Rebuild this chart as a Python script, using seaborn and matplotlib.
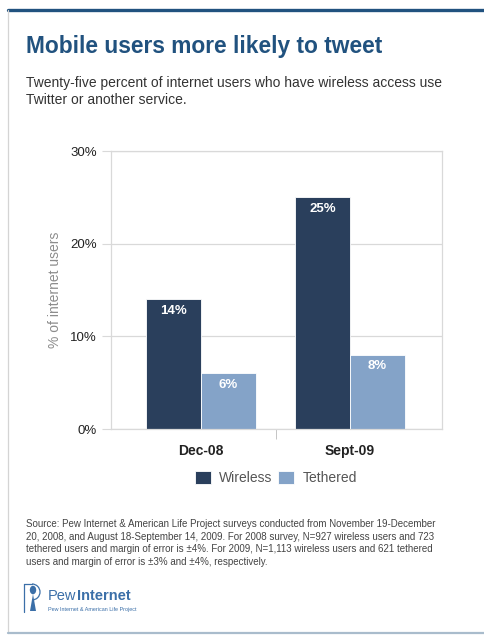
import matplotlib
matplotlib.use("Agg")
import matplotlib.pyplot as plt
from matplotlib.lines import Line2D
from matplotlib.patches import Circle, Polygon, Arc
import pandas as pd
import seaborn as sns

# Data
periods = ["Dec-08", "Sept-09"]
access_types = ["Wireless", "Tethered"]
wireless_pct = [14, 25]
tethered_pct = [6, 8]
y_ticks = [0, 10, 20, 30]

TITLE = "Mobile users more likely to tweet"
SUBTITLE = ("Twenty-five percent of internet users who have wireless access use\n"
            "Twitter or another service.")
SOURCE = ("Source: Pew Internet & American Life Project surveys conducted from November 19-December\n"
          "20, 2008, and August 18-September 14, 2009. For 2008 survey, N=927 wireless users and 723\n"
          "tethered users and margin of error is \u00b14%. For 2009, N=1,113 wireless users and 621 tethered\n"
          "users and margin of error is \u00b13% and \u00b14%, respectively.")

colors = ["#2a3f5c", "#84a3c8"]
W, H = 484, 643


def fx(px):
    return px / W


def fy(py):
    return 1 - py / H


df = pd.DataFrame({
    "period": periods * 2,
    "access": [access_types[0]] * 2 + [access_types[1]] * 2,
    "pct": wireless_pct + tethered_pct,
})

sns.set_style("white")
plt.rcParams["font.family"] = ["Liberation Sans", "DejaVu Sans"]

fig = plt.figure(figsize=(W / 100, H / 100), dpi=100)
fig.patch.set_facecolor("white")
ax = fig.add_axes([fx(111), fy(429), fx(442) - fx(111), fy(151) - fy(429)])

sns.barplot(data=df, x="period", y="pct", hue="access", palette=colors,
            width=0.74, gap=0, saturation=1, edgecolor="white", linewidth=0.6,
            ax=ax)

for cont in ax.containers:
    ax.bar_label(cont, labels=[f"{v:.0f}%" for v in cont.datavalues],
                 padding=-12.5, color="white", fontsize=9.5, fontweight="bold")

ax.set_ylim(0, 30)
ax.set_xlim(-0.604, 1.617)
ax.set_yticks(y_ticks)
ax.set_yticklabels([f"{t}%" for t in y_ticks], fontsize=9.5, color="#222222")
ax.yaxis.grid(True, color="#d9d9d9", linewidth=0.9)
ax.set_axisbelow(True)
ax.tick_params(axis="y", length=6.5, color="#d9d9d9", pad=3.5, left=True)
ax.tick_params(axis="x", length=0, pad=11, labelsize=10)
for lab in ax.get_xticklabels():
    lab.set_fontweight("bold")
    lab.set_color("#222222")
ax.set_xticks([0.5], minor=True)
ax.tick_params(axis="x", which="minor", length=7.5, color="#bbbbbb", bottom=True)

for s in ax.spines.values():
    s.set_color("#d9d9d9")
    s.set_linewidth(0.9)

ax.set_xlabel("")
ax.set_ylabel("% of internet users", fontsize=10, color="#8c8c8c")
ax.yaxis.set_label_coords(-0.148, 0.5)

handles, labels = ax.get_legend_handles_labels()
ax.get_legend().remove()
leg = fig.legend(handles, labels, loc="center", bbox_to_anchor=(fx(276), fy(478)),
                 ncol=2, frameon=False, fontsize=10, handlelength=1.15,
                 handleheight=1.08, handletextpad=0.58, columnspacing=0.4)
for t in leg.get_texts():
    t.set_color("#555555")

# Titles and notes
fig.text(fx(26), fy(47), TITLE, fontsize=16.4, fontweight="bold", color="#21527f",
         va="center", ha="left")
fig.text(fx(26), fy(91.5), SUBTITLE, fontsize=10, color="#333333",
         va="center", ha="left", linespacing=1.22)
fig.text(fx(26), fy(543), SOURCE, fontsize=7.0, color="#444444",
         va="center", ha="left", linespacing=1.36)

# Frame lines
fig.add_artist(Line2D([fx(8), 1], [fy(10), fy(10)], color="#21527f", linewidth=2.4))
fig.add_artist(Line2D([fx(8), fx(8)], [fy(10), fy(633)], color="#d4d4d4", linewidth=0.9))
fig.add_artist(Line2D([fx(8), 1], [fy(633), fy(633)], color="#a9bccc", linewidth=1.6))

# Logo: a rough "P" outline with a small figure inside
logo_blue = "#3b6fa8"
fig.add_artist(Line2D([fx(24), fx(24)], [fy(584), fy(612)], color=logo_blue, linewidth=0.9))
fig.add_artist(Line2D([fx(24), fx(32)], [fy(584), fy(584)], color=logo_blue, linewidth=0.9))
fig.add_artist(Arc((fx(32), fy(592)), 16 / W, 16 / H, theta1=-90, theta2=90,
                   color=logo_blue, linewidth=0.9, transform=fig.transFigure))
fig.add_artist(Circle((fx(33), fy(590)), 3.2 / W, facecolor=logo_blue,
                      edgecolor="none", transform=fig.transFigure))
fig.add_artist(Polygon([(fx(30), fy(611)), (fx(36), fy(611)), (fx(33), fy(594))],
                       closed=True, facecolor=logo_blue, edgecolor="none",
                       transform=fig.transFigure))
fig.text(fx(48), fy(596), "Pew", fontsize=10.5, color=logo_blue, va="center", ha="left")
fig.text(fx(77), fy(596), "Internet", fontsize=10.5, fontweight="bold", color=logo_blue,
         va="center", ha="left")
fig.text(fx(48), fy(609), "Pew Internet & American Life Project", fontsize=3.9,
         color=logo_blue, va="center", ha="left")

fig.savefig("out.png", dpi=100, facecolor="white")
